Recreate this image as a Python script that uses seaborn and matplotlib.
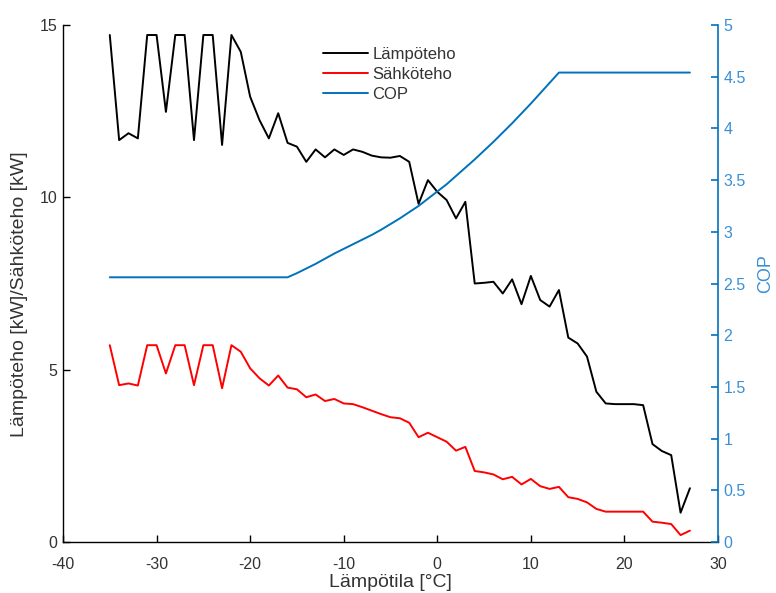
import matplotlib
matplotlib.use("Agg")
import matplotlib.pyplot as plt
import seaborn as sns
import pandas as pd
from matplotlib.lines import Line2D

# ---- data ----
temps = list(range(-35, 28))
lampoteho = [14.71, 11.66, 11.86, 11.71, 14.71, 14.71, 12.48, 14.71, 14.71, 11.66,
             14.71, 14.71, 11.52, 14.71, 14.22, 12.92, 12.24, 11.71, 12.44, 11.58,
             11.47, 11.03, 11.39, 11.16, 11.39, 11.23, 11.39, 11.32, 11.21, 11.16,
             11.15, 11.20, 11.03, 9.81, 10.50, 10.16, 9.92, 9.39, 9.87, 7.50,
             7.52, 7.55, 7.21, 7.62, 6.90, 7.72, 7.02, 6.83, 7.31, 5.93,
             5.76, 5.38, 4.36, 4.02, 4.00, 4.00, 4.00, 3.97, 2.84, 2.64,
             2.52, 0.85, 1.56]
sahkoteho = [5.71, 4.55, 4.60, 4.54, 5.71, 5.71, 4.89, 5.71, 5.71, 4.55,
             5.71, 5.71, 4.46, 5.71, 5.52, 5.04, 4.75, 4.54, 4.83, 4.48,
             4.43, 4.20, 4.28, 4.09, 4.15, 4.02, 4.00, 3.91, 3.81, 3.71,
             3.62, 3.59, 3.46, 3.04, 3.17, 3.04, 2.91, 2.65, 2.76, 2.06,
             2.02, 1.96, 1.82, 1.89, 1.67, 1.83, 1.62, 1.54, 1.60, 1.30,
             1.25, 1.15, 0.96, 0.88, 0.88, 0.88, 0.88, 0.88, 0.59, 0.56,
             0.52, 0.20, 0.33]
cop = [2.56, 2.56, 2.56, 2.56, 2.56, 2.56, 2.56, 2.56, 2.56, 2.56,
       2.56, 2.56, 2.56, 2.56, 2.56, 2.56, 2.56, 2.56, 2.56, 2.56,
       2.60, 2.645, 2.69, 2.74, 2.79, 2.835, 2.88, 2.925, 2.97, 3.02,
       3.075, 3.13, 3.19, 3.25, 3.32, 3.39, 3.46, 3.54, 3.62, 3.70,
       3.785, 3.87, 3.96, 4.05, 4.145, 4.24, 4.34, 4.44, 4.54, 4.54,
       4.54, 4.54, 4.54, 4.54, 4.54, 4.54, 4.54, 4.54, 4.54, 4.54,
       4.54, 4.54, 4.54]
series_labels = ["Lämpöteho", "Sähköteho", "COP"]
x_ticks = [-40, -30, -20, -10, 0, 10, 20, 30]
y_ticks = [0, 5, 10, 15]
cop_ticks = [0, 0.5, 1, 1.5, 2, 2.5, 3, 3.5, 4, 4.5, 5]
cop_tick_labels = ["0", "0.5", "1", "1.5", "2", "2.5", "3", "3.5", "4", "4.5", "5"]

df = pd.DataFrame({"T": temps, "L": lampoteho, "S": sahkoteho, "C": cop})

# ---- style ----
sns.set_theme(style="ticks")
plt.rcParams["font.family"] = ["Liberation Sans", "DejaVu Sans"]

BLACK = "#000000"
RED = "#ff0000"
BLUE = "#0072BD"
BLUE_TXT = "#3b8fd4"
GRAY_TXT = "#333333"

fig = plt.figure(figsize=(7.76, 5.93), dpi=100)
ax = fig.add_axes([63 / 776, 1 - 542 / 593, 655 / 776, 517 / 593])
ax2 = ax.twinx()

sns.lineplot(data=df, x="T", y="L", ax=ax, color=BLACK, lw=1.4)
sns.lineplot(data=df, x="T", y="S", ax=ax, color=RED, lw=1.4)
sns.lineplot(data=df, x="T", y="C", ax=ax2, color=BLUE, lw=1.4)

ax.set_xlim(-40, 30)
ax.set_ylim(0, 15)
ax2.set_ylim(0, 5)
ax.set_xticks(x_ticks)
ax.set_xticklabels([str(v) for v in x_ticks])
ax.set_yticks(y_ticks)
ax.set_yticklabels([str(v) for v in y_ticks])
ax2.set_yticks(cop_ticks)
ax2.set_yticklabels(cop_tick_labels)

for a in (ax, ax2):
    a.spines["top"].set_visible(False)
ax.spines["right"].set_visible(False)
ax2.spines["left"].set_visible(False)
ax2.spines["bottom"].set_visible(False)
ax.spines["left"].set_color(BLACK)
ax.spines["bottom"].set_color(BLACK)
ax2.spines["right"].set_color(BLUE)
for s in ("left", "bottom"):
    ax.spines[s].set_linewidth(1.0)
ax2.spines["right"].set_linewidth(1.2)

ax.tick_params(axis="both", direction="in", length=5, width=1.0, color=BLACK,
               labelsize=11.5, labelcolor=GRAY_TXT, pad=4)
ax.tick_params(axis="x", pad=10.5)
ax2.tick_params(axis="y", direction="in", length=5, width=1.2, color=BLUE,
                labelsize=11.5, labelcolor=BLUE_TXT, pad=4)

ax.set_xlabel("Lämpötila [°C]", fontsize=14, color=GRAY_TXT)
ax.set_ylabel("Lämpöteho [kW]/Sähköteho [kW]", fontsize=14, color=GRAY_TXT)
ax2.set_ylabel("COP", fontsize=13, color=BLUE_TXT)
ax.xaxis.set_label_coords(0.5, -0.062)
ax.yaxis.set_label_coords(-0.053, 0.48)
ax2.yaxis.set_label_coords(1.06, 0.52)

handles = [Line2D([], [], color=BLACK, lw=1.4),
           Line2D([], [], color=RED, lw=1.4),
           Line2D([], [], color=BLUE, lw=1.4)]
leg = ax2.legend(handles, series_labels, loc="upper left",
                 bbox_to_anchor=((323 - 63) / 655, (542 - 47) / 517),
                 frameon=False, fontsize=12, handlelength=2.7,
                 handletextpad=0.25, labelspacing=0.3, borderpad=0,
                 borderaxespad=0)
for t in leg.get_texts():
    t.set_color(GRAY_TXT)

fig.savefig("out.png", dpi=100)
